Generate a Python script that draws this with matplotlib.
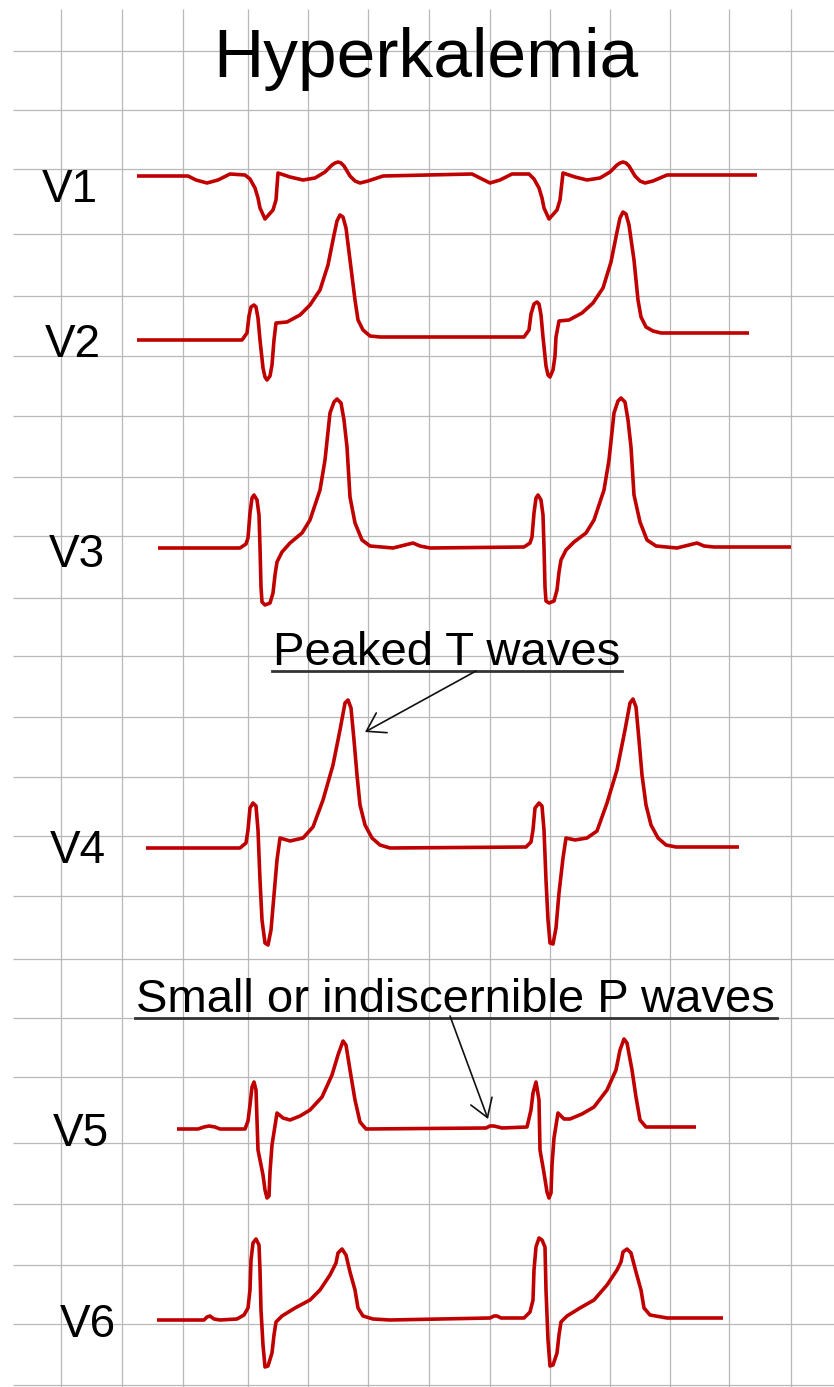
import matplotlib
matplotlib.use("Agg")
import matplotlib.pyplot as plt

plt.rcParams['font.family'] = ['Liberation Sans', 'DejaVu Sans']

# grid line positions (pixels of the original picture)
grid_x = [61.5, 122.5, 183.5, 248, 308, 368, 429.5, 490, 550, 610, 670, 729, 791]
grid_y = [51, 110, 169, 234, 296, 356, 416, 477, 536, 598, 656, 717, 777, 836,
          896, 959, 1018, 1077, 1143, 1204, 1265, 1324, 1385]

# traces, (x, y) points, y grows downward
v1 = [(137, 176), (188, 176), (196, 180), (207, 183), (218, 180), (230, 174), (245, 175),
      (250, 179), (255, 188), (258, 198), (260, 208), (265, 219), (273, 210), (276, 200),
      (278, 173), (290, 177), (303, 180), (315, 178), (325, 172), (332, 165), (335, 163),
      (338, 162), (341, 163), (344, 166), (350, 176), (355, 181), (360, 183), (368, 181),
      (383, 176),
      (472, 174), (480, 178), (490, 183), (500, 180), (512, 174), (529, 174),
      (534, 179), (539, 188), (542, 198), (544, 208), (549, 219), (557, 210), (560, 200),
      (563, 173), (575, 177), (587, 180), (600, 178), (610, 172), (617, 165), (620, 163),
      (623, 162), (626, 163), (629, 166), (635, 176), (640, 181), (645, 183), (653, 181),
      (667, 175), (757, 175)]

v2 = [(137, 340), (242, 340), (247, 333), (249, 316), (251, 307), (254, 305), (256, 307),
      (258, 318), (260, 340), (263, 368), (265, 377), (267, 380), (270, 376), (272, 365),
      (274, 340), (276, 323), (287, 322), (300, 315), (310, 305), (320, 290), (328, 265),
      (334, 235), (337, 221), (340, 215), (343, 217), (346, 228), (350, 260), (355, 300),
      (358, 320), (363, 330), (370, 336), (380, 337),
      (524, 337), (529, 330), (531, 314), (534, 304), (537, 302), (539, 304),
      (541, 315), (543, 337), (546, 366), (548, 375), (550, 377), (553, 370), (555, 356),
      (556, 337), (559, 321), (569, 320), (582, 313), (593, 303), (603, 288), (611, 262),
      (617, 232), (620, 218), (623, 212), (626, 214), (629, 225), (634, 260), (638, 300),
      (641, 317), (646, 327), (653, 331), (661, 333), (749, 333)]

v3 = [(158, 548), (240, 548), (246, 544), (248, 538), (250, 513), (252, 498), (254, 495),
      (257, 500), (259, 515), (260, 547), (261, 587), (262, 602), (265, 605), (270, 603),
      (273, 593), (275, 575), (277, 562), (282, 552), (290, 543), (302, 533), (310, 520),
      (320, 490), (325, 460), (330, 413), (334, 402), (337, 399), (341, 403), (344, 420),
      (347, 447), (350, 497), (355, 523), (362, 540), (370, 546), (393, 548), (405, 545),
      (413, 543), (420, 546), (430, 548),
      (524, 547), (530, 543), (532, 537), (534, 513), (536, 498), (538, 495),
      (541, 500), (543, 515), (544, 547), (545, 587), (546, 601), (549, 603), (554, 601),
      (557, 590), (559, 572), (561, 560), (566, 550), (574, 542), (586, 533), (594, 520),
      (604, 490), (609, 460), (614, 413), (618, 401), (621, 398), (625, 402), (628, 420),
      (631, 447), (634, 495), (640, 522), (647, 540), (656, 546), (677, 548), (689, 545),
      (697, 543), (704, 546), (714, 547), (791, 547)]

v4 = [(146, 848), (240, 848), (246, 843), (248, 830), (250, 808), (253, 803), (256, 806),
      (258, 830), (260, 880), (262, 920), (265, 943), (268, 945), (271, 930), (274, 895),
      (277, 860), (280, 838), (290, 841), (303, 838), (313, 827), (323, 800), (333, 765),
      (340, 730), (345, 703), (348, 700), (351, 708), (354, 740), (357, 775), (360, 805),
      (365, 825), (372, 838), (380, 845), (390, 848),
      (526, 847), (531, 842), (533, 830), (535, 808), (539, 803), (542, 806),
      (544, 830), (546, 880), (548, 920), (550, 943), (553, 944), (556, 928), (559, 893),
      (563, 858), (566, 838), (575, 840), (587, 838), (597, 831), (607, 803), (617, 770),
      (625, 730), (630, 703), (633, 699), (636, 707), (639, 740), (642, 775), (646, 805),
      (651, 825), (658, 838), (666, 845), (676, 847), (739, 847)]

v5 = [(177, 1129), (198, 1129), (204, 1127), (209, 1126), (215, 1127), (220, 1129), (245, 1129),
      (248, 1121), (250, 1105), (252, 1087), (254, 1082), (256, 1090), (257, 1120), (258, 1150),
      (263, 1175), (265, 1190), (267, 1198), (269, 1196), (270, 1172), (272, 1145), (277, 1113),
      (283, 1118), (290, 1120), (300, 1116), (310, 1110), (322, 1097), (332, 1075), (338, 1055),
      (343, 1041), (346, 1045), (350, 1070), (355, 1100), (360, 1122), (366, 1129),
      (486, 1128), (490, 1126), (494, 1126), (502, 1128), (527, 1127), (531, 1110),
      (533, 1093), (536, 1082), (539, 1100), (540, 1150), (544, 1173), (547, 1192), (549, 1198),
      (551, 1193), (552, 1165), (554, 1138), (558, 1113), (564, 1119), (570, 1119), (582, 1114),
      (594, 1107), (607, 1090), (616, 1070), (620, 1050), (624, 1039), (627, 1043), (632, 1070),
      (636, 1097), (640, 1120), (646, 1127), (696, 1127)]

v6 = [(157, 1320), (204, 1320), (207, 1317), (210, 1316), (214, 1319), (220, 1320), (237, 1319),
      (244, 1315), (248, 1308), (250, 1290), (251, 1260), (253, 1243), (256, 1239), (259, 1245),
      (260, 1270), (261, 1310), (263, 1345), (265, 1367), (268, 1366), (272, 1353), (274, 1335),
      (276, 1322), (282, 1316), (295, 1308), (310, 1300), (320, 1290), (330, 1275), (336, 1263),
      (338, 1253), (342, 1249), (346, 1255), (350, 1272), (355, 1290), (358, 1308), (363, 1316),
      (373, 1319), (390, 1320),
      (490, 1318), (494, 1316), (497, 1316), (501, 1318), (524, 1318), (530, 1312),
      (533, 1300), (534, 1270), (536, 1247), (539, 1238), (542, 1240), (545, 1247), (546, 1290),
      (548, 1340), (550, 1366), (553, 1365), (557, 1353), (559, 1335), (561, 1322), (567, 1316),
      (580, 1308), (594, 1300), (607, 1285), (617, 1270), (621, 1262), (623, 1252), (627, 1249),
      (631, 1253), (636, 1272), (641, 1290), (644, 1308), (650, 1315), (667, 1318), (723, 1318)]

leads = [v1, v2, v3, v4, v5, v6]
lead_names = ["V1", "V2", "V3", "V4", "V5", "V6"]
label_pos = [(42, 202), (45, 357), (49, 567), (50, 863), (53, 1146), (60, 1337)]

fig = plt.figure(figsize=(8.34, 13.87), dpi=100)
ax = fig.add_axes([0, 0, 1, 1])
ax.set_xlim(0, 834)
ax.set_ylim(1387, 0)
ax.axis("off")

ax.vlines(grid_x, 9, 1387, color="#b8b8b8", lw=0.9, zorder=1)
ax.hlines(grid_y, 13, 834, color="#b8b8b8", lw=0.9, zorder=1)

for pts in leads:
    xs = [p[0] for p in pts]
    ys = [p[1] for p in pts]
    ax.plot(xs, ys, color="#c00000", lw=2.6, solid_joinstyle="round",
            solid_capstyle="butt", zorder=3)

for name, (lx, ly) in zip(lead_names, label_pos):
    ax.text(lx, ly, name, fontsize=33, ha="left", va="baseline", color="black")

ax.text(426, 77, "Hyperkalemia", fontsize=50, ha="center", va="baseline", color="black")

notes = [("Peaked T waves", (273, 665), (476, 671), (365, 732)),
         ("Small or indiscernible P waves", (136, 1012), (450, 1016), (488, 1119))]

fig.canvas.draw()
renderer = fig.canvas.get_renderer()
inv = ax.transData.inverted()
for txt, (tx, ty), start, tip in notes:
    t = ax.text(tx, ty, txt, fontsize=34, ha="left", va="baseline", color="black")
    bb = t.get_window_extent(renderer)
    (x0, _), (x1, _) = inv.transform([[bb.x0, bb.y0], [bb.x1, bb.y1]])
    ax.plot([x0 - 1, x1 + 2], [ty + 6, ty + 6], color="#333333", lw=2, zorder=3)
    ax.annotate("", xy=tip, xytext=start,
                arrowprops=dict(arrowstyle="->,head_length=0.42,head_width=0.27",
                                color="#111111", lw=1.2,
                                mutation_scale=30, shrinkA=0, shrinkB=0))

fig.savefig("out.png", dpi=100)
